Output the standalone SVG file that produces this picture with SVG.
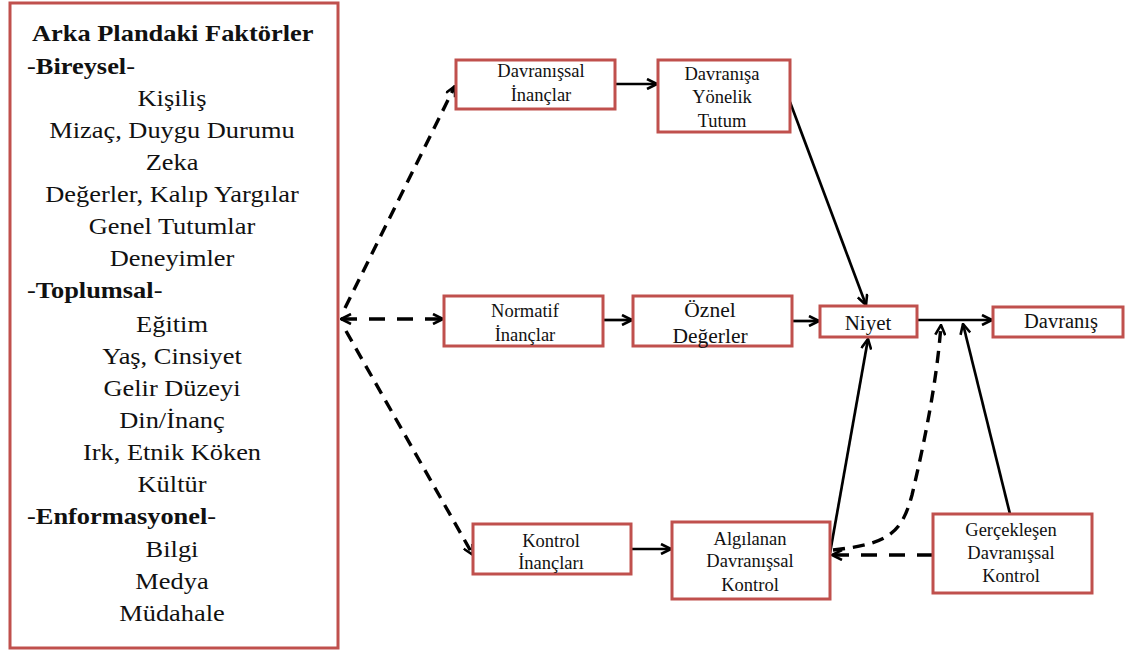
<svg xmlns="http://www.w3.org/2000/svg" width="1135" height="652" viewBox="0 0 1135 652">
<defs>
<marker id="arr" viewBox="0 0 12 12" markerWidth="12" markerHeight="12" refX="11" refY="6" orient="auto-start-reverse" markerUnits="userSpaceOnUse">
<path d="M1,1 L11,6 L1,11" fill="none" stroke="#000" stroke-width="2.6" stroke-linejoin="miter"/>
</marker>
</defs>
<style>
text{font-family:"Liberation Serif","Times New Roman",serif;fill:#111}
.box{fill:#fff;stroke:#c0504d;stroke-width:3}
.t{text-anchor:middle}
.lt{font-size:24px}
.h{font-weight:bold}
.n{font-size:18.5px}
.c{fill:none;stroke:#000;stroke-width:2.7}
.d{stroke-width:3.4;stroke-dasharray:12 8}
.dh{stroke-width:3.4;stroke-dasharray:16 12}
</style>
<rect width="1135" height="652" fill="#fff"/>
<g id="background">
<rect class="box" x="10" y="3" width="328" height="645"/>
<g transform="translate(32,0) scale(1.1,1)">
<text class="lt h" x="0" y="41">Arka Plandaki Faktörler</text>
</g>
<g transform="translate(27,0) scale(1.1,1)">
<text class="lt" x="0" y="74">-<tspan class="h">Bireysel</tspan>-</text>
<text class="lt" x="0" y="298">-<tspan class="h">Toplumsal</tspan>-</text>
<text class="lt" x="0" y="524">-<tspan class="h">Enformasyonel</tspan>-</text>
</g>
<g transform="translate(172,0) scale(1.1,1)">
<text class="lt t" x="0" y="106">Kişiliş</text>
<text class="lt t" x="0" y="138">Mizaç, Duygu Durumu</text>
<text class="lt t" x="0" y="170">Zeka</text>
<text class="lt t" x="0" y="202">Değerler, Kalıp Yargılar</text>
<text class="lt t" x="0" y="234">Genel Tutumlar</text>
<text class="lt t" x="0" y="266">Deneyimler</text>
<text class="lt t" x="0" y="332">Eğitim</text>
<text class="lt t" x="0" y="364">Yaş, Cinsiyet</text>
<text class="lt t" x="0" y="396">Gelir Düzeyi</text>
<text class="lt t" x="0" y="428">Din/İnanç</text>
<text class="lt t" x="0" y="460">Irk, Etnik Köken</text>
<text class="lt t" x="0" y="492">Kültür</text>
<text class="lt t" x="0" y="557">Bilgi</text>
<text class="lt t" x="0" y="589">Medya</text>
<text class="lt t" x="0" y="621">Müdahale</text>
</g>
</g>
<g id="connectors">
<path class="c dh" d="M341,319 L443,319" marker-start="url(#arr)" marker-end="url(#arr)"/>
<path class="c d" d="M345,308 L455,86" marker-end="url(#arr)"/>
<path class="c d" d="M346,331 L473,555" marker-end="url(#arr)"/>
<path class="c" d="M615,84 L657,84" marker-end="url(#arr)"/>
<path class="c" d="M603,320 L632,320" marker-end="url(#arr)"/>
<path class="c" d="M792,321 L819,321" marker-end="url(#arr)"/>
<path class="c" d="M631,549 L671,549" marker-end="url(#arr)"/>
<path class="c" d="M790,102 L866,305" marker-end="url(#arr)"/>
<path class="c" d="M830,553 L868,339" marker-end="url(#arr)"/>
<path class="c" d="M917,320 L992,320" marker-end="url(#arr)"/>
<path class="c" d="M1010,514 L963,324" marker-end="url(#arr)"/>
<path class="c dh" d="M933,555 L832,555" marker-end="url(#arr)"/>
<path class="c d" d="M833,550 C890,544 902,532 912,495 C925,440 937,380 941,325" marker-end="url(#arr)"/>
</g>
<g id="n-davranissal-inanclar">
<rect class="box" x="456" y="60" width="159" height="49"/>
<text class="t n" x="541" y="77">Davranışsal</text>
<text class="t n" x="541" y="101">İnançlar</text>
</g>
<g id="n-tutum">
<rect class="box" x="658" y="60" width="132" height="72"/>
<text class="t n" x="722" y="80">Davranışa</text>
<text class="t n" x="722" y="103">Yönelik</text>
<text class="t n" x="722" y="127">Tutum</text>
</g>
<g id="n-normatif">
<rect class="box" x="444" y="296" width="159" height="50"/>
<text class="t n" x="525" y="317">Normatif</text>
<text class="t n" x="525" y="341">İnançlar</text>
</g>
<g id="n-oznel">
<rect class="box" x="633" y="296" width="159" height="50"/>
<text class="t" x="710" y="317" font-size="21.5">Öznel</text>
<text class="t" x="710" y="343" font-size="21.5">Değerler</text>
</g>
<g id="n-niyet">
<rect class="box" x="820" y="306" width="97" height="31"/>
<text class="t" x="868" y="330" font-size="21">Niyet</text>
</g>
<g id="n-davranis">
<rect class="box" x="993" y="307" width="130" height="30"/>
<text class="t" x="1061" y="328" font-size="20.5">Davranış</text>
</g>
<g id="n-kontrol-inanclari">
<rect class="box" x="473" y="524" width="158" height="50"/>
<text class="t n" x="551" y="547">Kontrol</text>
<text class="t n" x="551" y="569">İnançları</text>
</g>
<g id="n-algilanan">
<rect class="box" x="672" y="522" width="158" height="77"/>
<text class="t n" x="750" y="545">Algılanan</text>
<text class="t n" x="750" y="567">Davranışsal</text>
<text class="t n" x="750" y="591">Kontrol</text>
</g>
<g id="n-gerceklesen">
<rect class="box" x="933" y="514" width="159" height="79"/>
<text class="t n" x="1011" y="536">Gerçekleşen</text>
<text class="t n" x="1011" y="559">Davranışsal</text>
<text class="t n" x="1011" y="582">Kontrol</text>
</g>
</svg>
